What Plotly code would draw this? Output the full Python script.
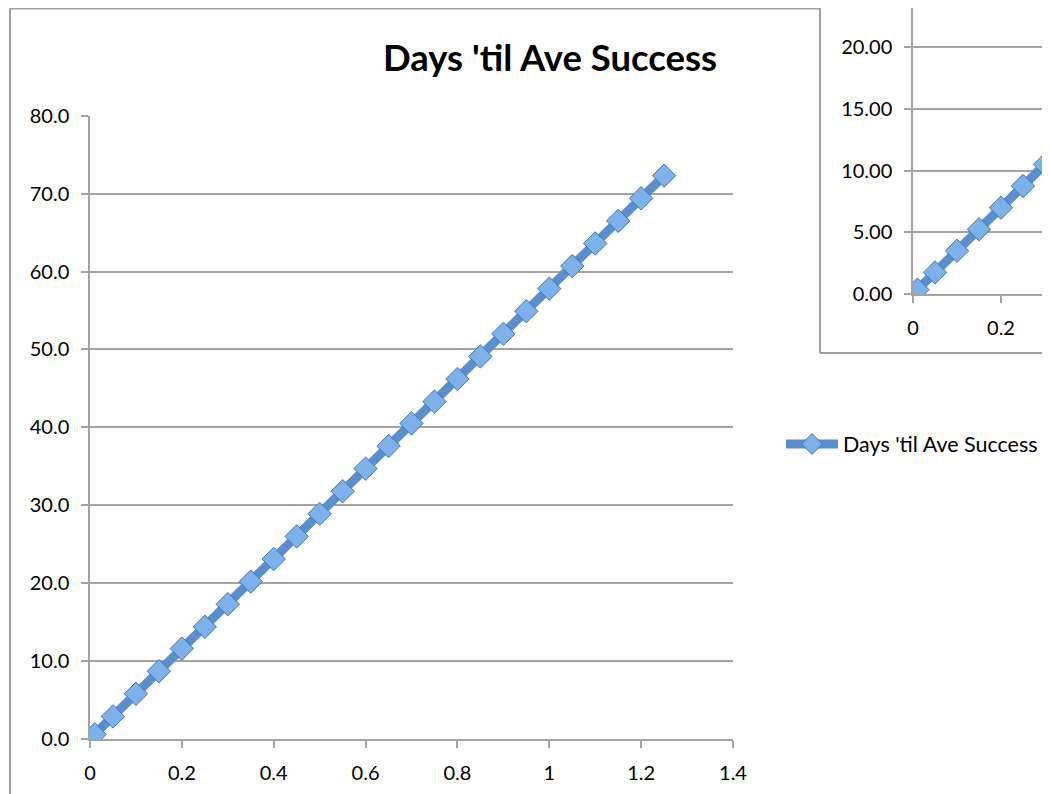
import plotly.graph_objects as go

# ---- data ----
x_vals = [0.01, 0.05, 0.10, 0.15, 0.20, 0.25, 0.30, 0.35, 0.40, 0.45, 0.50, 0.55, 0.60,
          0.65, 0.70, 0.75, 0.80, 0.85, 0.90, 0.95, 1.00, 1.05, 1.10, 1.15, 1.20, 1.25]
days_til_success = [0.6, 2.9, 5.8, 8.7, 11.6, 14.4, 17.3, 20.2, 23.1, 26.0, 28.9, 31.8, 34.7,
                    37.6, 40.5, 43.3, 46.2, 49.1, 52.0, 54.9, 57.8, 60.7, 63.6, 66.5, 69.4, 72.3]
inset_x = [0.01, 0.05, 0.10, 0.15, 0.20, 0.25, 0.30, 0.35]
inset_y = [0.35, 1.75, 3.5, 5.25, 7.0, 8.75, 10.5, 12.25]
series_name = "Days 'til Ave Success"
title_text = "Days 'til Ave Success"
main_yticks = [0, 10, 20, 30, 40, 50, 60, 70, 80]
main_xticks = [0, 0.2, 0.4, 0.6, 0.8, 1.0, 1.2, 1.4]
main_xticktext = ["0", "0.2", "0.4", "0.6", "0.8", "1", "1.2", "1.4"]
inset_yticks = [0, 5, 10, 15, 20]
inset_xticks = [0, 0.2]
inset_xticktext = ["0", "0.2"]

W, H = 1050, 794
OFF = 8  # page body margin offset of the plot div

def px(x):
    return (x - OFF) / W
def py(y):
    return 1 - (y - OFF) / H

FONT = "Lato, 'Open Sans', sans-serif"
LINE_COLOR = "#5A8ECD"
MARKER_FILL = "#7EB0EA"
MARKER_EDGE = "#4274B6"
GRID = "#A3A3A3"
FRAME = "#A0A0A0"

fig = go.Figure()

fig.add_trace(go.Scatter(
    x=x_vals, y=days_til_success, name=series_name, mode="lines+markers",
    line=dict(color=LINE_COLOR, width=9),
    marker=dict(symbol="diamond", size=18, color=MARKER_FILL,
                line=dict(color=MARKER_EDGE, width=1)),
    xaxis="x", yaxis="y", showlegend=True,
))

fig.add_trace(go.Scatter(
    x=inset_x, y=inset_y, name=series_name, mode="lines+markers",
    line=dict(color=LINE_COLOR, width=9),
    marker=dict(symbol="diamond", size=18, color=MARKER_FILL,
                line=dict(color=MARKER_EDGE, width=1)),
    xaxis="x2", yaxis="y2", showlegend=False,
))

shapes = [
    # main chart frame (top edge sits at the very top of the drawing area)
    dict(type="line", xref="paper", yref="paper", x0=px(10), x1=px(820), y0=py(8.5), y1=py(8.5),
         line=dict(color=FRAME, width=2)),
    dict(type="line", xref="paper", yref="paper", x0=px(10), x1=px(10), y0=py(8.5), y1=py(800),
         line=dict(color=FRAME, width=2)),
    # inset chart background + frame
    dict(type="rect", xref="paper", yref="paper", x0=px(820), x1=px(1060), y0=py(353), y1=py(-2),
         fillcolor="white", line=dict(width=0), layer="below"),
    dict(type="line", xref="paper", yref="paper", x0=px(820), x1=px(820), y0=py(353), y1=py(-2),
         line=dict(color=FRAME, width=2)),
    dict(type="line", xref="paper", yref="paper", x0=px(820), x1=px(1060), y0=py(353), y1=py(353),
         line=dict(color=FRAME, width=2)),
]

axis_common = dict(
    showline=True, linecolor=GRID, linewidth=1.5,
    ticks="outside", ticklen=7, tickcolor=GRID, tickwidth=1.5,
    tickfont=dict(family=FONT, size=20, color="#000000"),
    zeroline=False, automargin=False,
)

inset_right = OFF + W  # screen x of domain end 1.0
inset_top = OFF        # screen y of domain top 1.0

fig.update_layout(
    template="none",
    width=W, height=H,
    margin=dict(l=0, r=0, t=0, b=0, pad=0),
    paper_bgcolor="white", plot_bgcolor="rgba(0,0,0,0)",
    showlegend=True,
    title=dict(text="<b>" + title_text + "</b>", x=px(550), xanchor="center",
               y=py(58), yanchor="middle",
               font=dict(family=FONT, size=36.5, color="#000000")),
    xaxis=dict(domain=[px(90), px(733)], range=[0, 1.4], tickvals=main_xticks,
               ticktext=main_xticktext, showgrid=False, anchor="y",
               ticklabelstandoff=8, **axis_common),
    yaxis=dict(domain=[py(739), py(115.7)], range=[0, 80], tickvals=main_yticks,
               tickformat=".1f", showgrid=True, gridcolor=GRID, gridwidth=1.5,
               anchor="x", ticklabelstandoff=8, **axis_common),
    xaxis2=dict(domain=[px(913), 1.0], range=[0, (inset_right - 913) / 440.0],
                tickvals=inset_xticks, ticktext=inset_xticktext, showgrid=False,
                anchor="y2", ticklabelstandoff=8, **axis_common),
    yaxis2=dict(domain=[py(294), 1.0], range=[0, (294 - inset_top) / 12.34],
                tickvals=inset_yticks, tickformat=".2f", showgrid=True, gridcolor=GRID,
                gridwidth=1.5, anchor="x2", ticklabelstandoff=8, **axis_common),
    legend=dict(x=px(781), y=py(444), xanchor="left", yanchor="middle",
                bgcolor="rgba(0,0,0,0)", itemwidth=52, borderwidth=0,
                font=dict(family=FONT, size=21.5, color="#000000")),
    shapes=shapes,
)

fig.write_html("out.html")
